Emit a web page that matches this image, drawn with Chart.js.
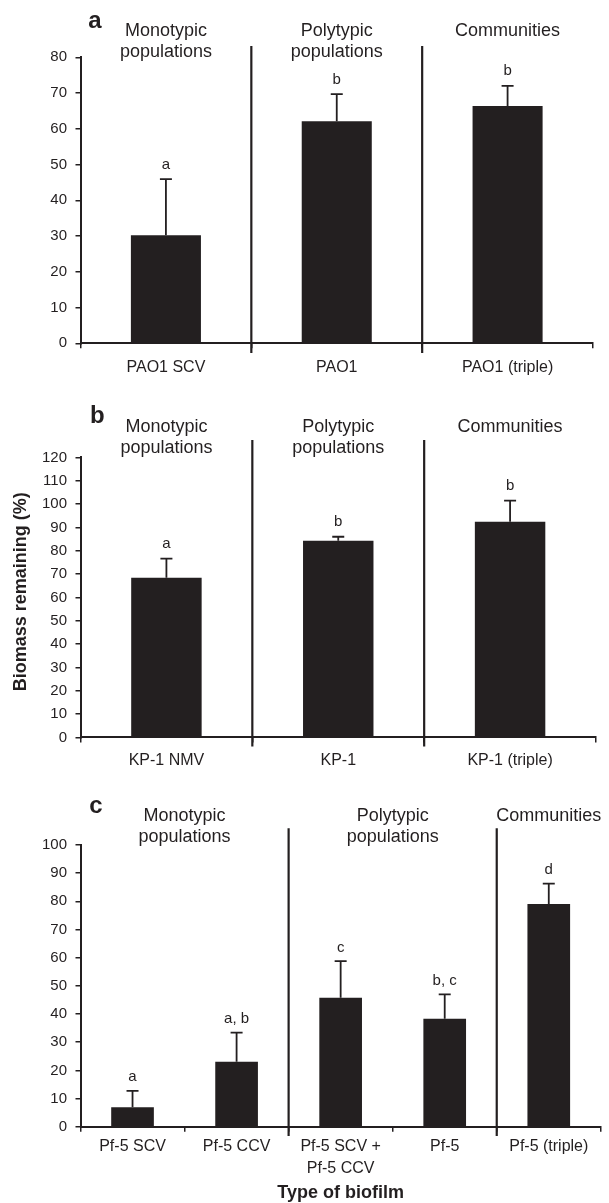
<!DOCTYPE html>
<html>
<head>
<meta charset="utf-8">
<script src="https://cdn.jsdelivr.net/npm/chart.js@4"></script>
<style>
    body { margin: 0; background: #fff; }
    #wrap { position: relative; width: 609px; height: 1203px; }
    canvas { position: absolute; left: 0; }
</style>
</head>
<body>
<div id="wrap">
    <canvas id="chartA" width="609" height="380" style="top:0"></canvas>
    <canvas id="chartB" width="609" height="400" style="top:380px"></canvas>
    <canvas id="chartC" width="609" height="423" style="top:780px"></canvas>
</div>
<script>
// Panel a
const categoriesA = ['PAO1 SCV', 'PAO1', 'PAO1 (triple)'];
const valuesA = [30.2, 62.1, 66.4];
const errorsA = [15.7, 7.6, 5.6];
const lettersA = ['a', 'b', 'b'];
const yTicksA = [0, 10, 20, 30, 40, 50, 60, 70, 80];
const groupsA = [['Monotypic', 'populations'], ['Polytypic', 'populations'], ['Communities']];
const groupSpansA = [[0, 0], [1, 1], [2, 2]];

// Panel b
const categoriesB = ['KP-1 NMV', 'KP-1', 'KP-1 (triple)'];
const valuesB = [68.4, 84.3, 92.4];
const errorsB = [8.2, 1.7, 9.1];
const lettersB = ['a', 'b', 'b'];
const yTicksB = [0, 10, 20, 30, 40, 50, 60, 70, 80, 90, 100, 110, 120];
const groupsB = [['Monotypic', 'populations'], ['Polytypic', 'populations'], ['Communities']];
const groupSpansB = [[0, 0], [1, 1], [2, 2]];

// Panel c
const categoriesC = ['Pf-5 SCV', 'Pf-5 CCV', ['Pf-5 SCV +', 'Pf-5 CCV'], 'Pf-5', 'Pf-5 (triple)'];
const valuesC = [6.9, 23.1, 45.8, 38.3, 79.1];
const errorsC = [5.8, 10.3, 13.0, 8.7, 7.2];
const lettersC = ['a', 'a, b', 'c', 'b, c', 'd'];
const yTicksC = [0, 10, 20, 30, 40, 50, 60, 70, 80, 90, 100];
const groupsC = [['Monotypic', 'populations'], ['Polytypic', 'populations'], ['Communities']];
const groupSpansC = [[0, 1], [2, 3], [4, 4]];

const yAxisTitle = 'Biomass remaining (%)';
const xAxisTitle = 'Type of biofilm';

const INK = '#231f20';
const FONT = '"Liberation Sans", Arial, Helvetica, sans-serif';

/**
 * Draw error bars, letters, group dividers and headings on top of the chart
 */
function drawExtras(chart, p) {
    const ctx = chart.ctx;
    const xs = chart.scales.x;
    const ys = chart.scales.y;
    const meta = chart.getDatasetMeta(0);

    ctx.save();
    ctx.strokeStyle = INK;
    ctx.fillStyle = INK;
    ctx.textAlign = 'center';
    ctx.textBaseline = 'alphabetic';

    // error bars + significance letters
    ctx.lineWidth = 1.8;
    ctx.font = '15px ' + FONT;
    p.values.forEach((v, i) => {
        const bx = meta.data[i].x;
        const yBar = ys.getPixelForValue(v);
        const yTop = ys.getPixelForValue(v + p.errors[i]);
        ctx.beginPath();
        ctx.moveTo(bx, yBar);
        ctx.lineTo(bx, yTop);
        ctx.moveTo(bx - 6, yTop);
        ctx.lineTo(bx + 6, yTop);
        ctx.stroke();
        ctx.fillText(p.letters[i], bx, yTop - p.letterGap);
    });

    // group dividers
    ctx.lineWidth = 2.2;
    for (let g = 0; g < p.spans.length - 1; g++) {
        const dx = (xs.getPixelForValue(p.spans[g][1]) + xs.getPixelForValue(p.spans[g + 1][0])) / 2;
        ctx.beginPath();
        ctx.moveTo(dx, p.dividerTop);
        ctx.lineTo(dx, p.dividerBottom);
        ctx.stroke();
    }

    // group headings
    ctx.font = '18px ' + FONT;
    p.groups.forEach((lines, g) => {
        const cx = (xs.getPixelForValue(p.spans[g][0]) + xs.getPixelForValue(p.spans[g][1])) / 2;
        lines.forEach((t, k) => ctx.fillText(t, cx, p.headBase + k * 21.6));
    });

    // panel letter
    ctx.font = 'bold 24px ' + FONT;
    ctx.textAlign = 'left';
    ctx.fillText(p.panel, p.panelX, p.panelBase);

    // axis titles
    ctx.font = 'bold 18px ' + FONT;
    ctx.textAlign = 'center';
    if (p.yTitle) {
        ctx.save();
        ctx.translate(p.yTitleX, p.yTitleY);
        ctx.rotate(-Math.PI / 2);
        ctx.fillText(p.yTitle, 0, 0);
        ctx.restore();
    }
    if (p.xTitle) {
        const area = chart.chartArea;
        ctx.fillText(p.xTitle, (area.left + area.right) / 2, p.xTitleBase);
    }
    ctx.restore();
}

function makePanel(id, p) {
    const ctx = document.getElementById(id).getContext('2d');
    return new Chart(ctx, {
        type: 'bar',
        data: {
            labels: p.labels,
            datasets: [{
                data: p.values,
                backgroundColor: INK,
                barPercentage: 0.41,
                categoryPercentage: 1
            }]
        },
        options: {
            responsive: false,
            animation: false,
            layout: { padding: { left: 0, right: 609 - p.right, top: p.top, bottom: 0 } },
            plugins: {
                legend: { display: false },
                tooltip: { enabled: false }
            },
            scales: {
                x: {
                    grid: { display: true, drawOnChartArea: false, offset: true, tickLength: 5, color: INK, lineWidth: 1.5 },
                    border: { display: true, color: INK, width: 2 },
                    ticks: {
                        color: INK,
                        font: { family: FONT, size: 16, lineHeight: p.labelLine },
                        padding: p.labelPad,
                        maxRotation: 0,
                        autoSkip: false
                    },
                    afterFit: s => { s.height = p.h - p.bottom; }
                },
                y: {
                    min: p.ticks[0],
                    max: p.ticks[p.ticks.length - 1],
                    grid: { drawOnChartArea: false, tickLength: 5, color: INK, lineWidth: 1.5 },
                    border: { display: true, color: INK, width: 2 },
                    ticks: {
                        stepSize: p.ticks[1] - p.ticks[0],
                        color: INK,
                        font: { family: FONT, size: 15 },
                        padding: 8.5
                    },
                    afterFit: s => { s.width = p.left; }
                }
            }
        },
        plugins: [{
            id: 'extras',
            afterDraw: chart => drawExtras(chart, p)
        }]
    });
}

makePanel('chartA', {
    labels: categoriesA, values: valuesA, errors: errorsA, letters: lettersA, ticks: yTicksA,
    groups: groupsA, spans: groupSpansA, panel: 'a',
    h: 380, left: 80.5, right: 593, top: 57.3, bottom: 343.3,
    dividerTop: 46, dividerBottom: 353, headBase: 35.7, panelX: 88.3, panelBase: 28.3,
    labelPad: 9.6, labelLine: 1.2, letterGap: 10.5
});

makePanel('chartB', {
    labels: categoriesB, values: valuesB, errors: errorsB, letters: lettersB, ticks: yTicksB,
    groups: groupsB, spans: groupSpansB, panel: 'b',
    h: 400, left: 80.5, right: 596, top: 77.4, bottom: 357.4,
    dividerTop: 60, dividerBottom: 366.5, headBase: 51.7, panelX: 90, panelBase: 43.3,
    labelPad: 8.5, labelLine: 1.2, letterGap: 10.5,
    yTitle: yAxisTitle, yTitleX: 25.5, yTitleY: 211.7
});

makePanel('chartC', {
    labels: categoriesC, values: valuesC, errors: errorsC, letters: lettersC, ticks: yTicksC,
    groups: groupsC, spans: groupSpansC, panel: 'c',
    h: 423, left: 80.5, right: 600.8, top: 65, bottom: 346.7,
    dividerTop: 48.3, dividerBottom: 356, headBase: 40.7, panelX: 89.3, panelBase: 33.3,
    labelPad: 4, labelLine: 1.375, letterGap: 9.5,
    xTitle: xAxisTitle, xTitleBase: 418.3
});
</script>
</body>
</html>
